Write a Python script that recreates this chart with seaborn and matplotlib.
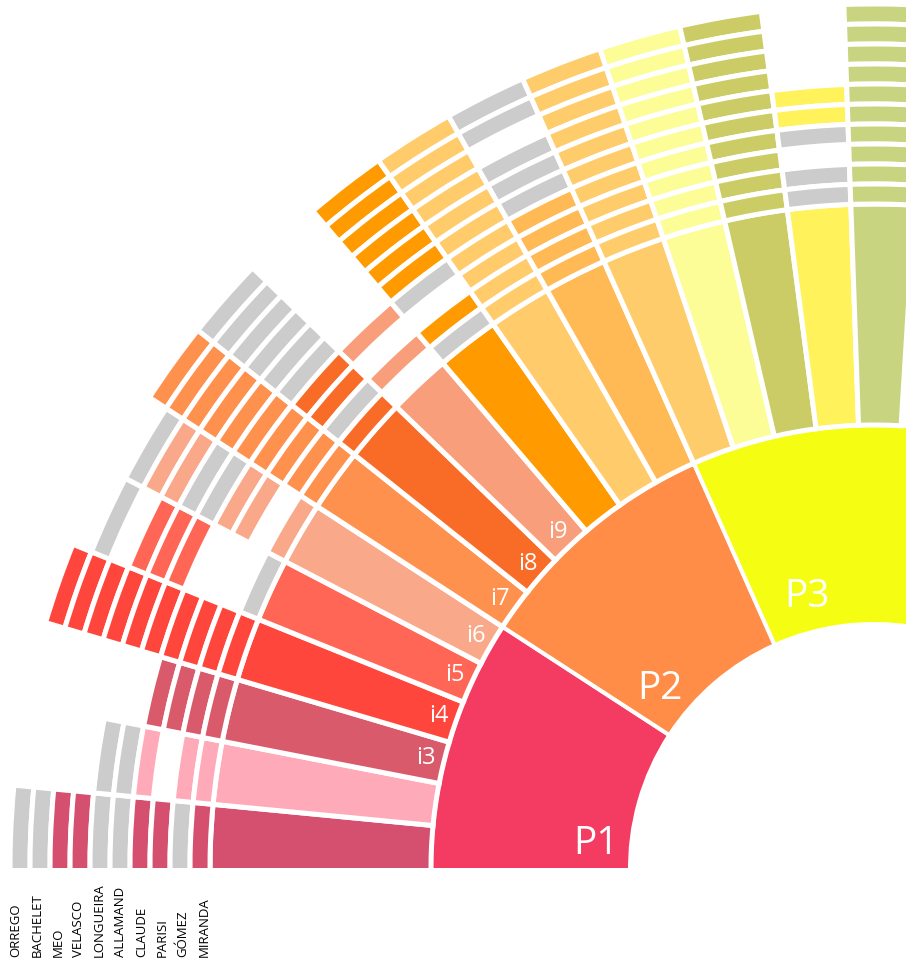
import numpy as np
import matplotlib
matplotlib.use("Agg")
import matplotlib.pyplot as plt
from matplotlib.patches import Rectangle
import seaborn as sns

# ---------------- data ----------------
candidates = ["ORREGO", "BACHELET", "MEO", "VELASCO", "LONGUEIRA",
              "ALLAMAND", "CLAUDE", "PARISI", "GÓMEZ", "MIRANDA"]

indicators = ["i1", "i2", "i3", "i4", "i5", "i6", "i7", "i8", "i9",
              "i10", "i11", "i12", "i13", "i14", "i15", "i16", "i17"]
labelled_indicators = ["i3", "i4", "i5", "i6", "i7", "i8", "i9"]

groups = ["P1", "P2", "P3"]
group_sizes = [6, 6, 6]          # P3 continues past the right edge

indicator_colors = ["#d4506e", "#ffaab8", "#d95b6b", "#ff463c", "#ff6655",
                    "#f9a98a", "#ff914f", "#f96c28", "#f99e7b", "#ff9a00",
                    "#ffcb6b", "#ffba55", "#ffcc6b", "#fdfd98", "#cccc66",
                    "#fff25b", "#c8d47f"]
group_colors = ["#f43c62", "#ff8c47", "#f5fe12"]
grey = "#cccccc"

# one string per indicator, one character per candidate (ORREGO ... MIRANDA)
# c = indicator colour, g = grey, . = no cell
cell_codes = ["ggccggccgc",
              "....ggc.cc",
              "......cccc",
              "cccccccccc",
              ".g.ccc...g",
              ".gccggcc.c",
              "cccccccccc",
              "ggggggccgc",
              "......c.c.",
              "ccccccg.cg",
              "cccccccccc",
              "gg.gggcccc",
              "cccccccccc",
              "cccccccccc",
              "cccccccccc",
              "....ccg.gg",
              "cccccccccc"]

# ---------------- style ----------------
sns.set_theme(style="white")
plt.rcParams["font.family"] = ["Open Sans", "DejaVu Sans"]
palette = sns.color_palette(indicator_colors)
gpalette = sns.color_palette(group_colors)

W, H = 906, 964
fig = plt.figure(figsize=(W / 100, H / 100), dpi=100)
cx, cy = 874, 868          # centre of the rings (pixels from top-left)
R = 880                    # radial limit in pixels
ax = fig.add_axes([(cx - R) / W, (H - cy - R) / H, 2 * R / W, 2 * R / H],
                  projection="polar")
ax.set_ylim(0, R)
ax.set_axis_off()

step = np.deg2rad(5.5)
extra = np.deg2rad(1.5)   # first wedge runs under the baseline mask
px = 72 / 100  # points per pixel

# party ring
g_start = np.concatenate([[0], np.cumsum(group_sizes)[:-1]])
g_left = np.pi - step * (g_start + np.array(group_sizes))
g_width = step * np.array(group_sizes) + np.where(g_start == 0, extra, 0)
ax.bar(g_left, 443 - 244, width=g_width, bottom=244, color=gpalette,
       edgecolor="white", linewidth=4 * px, align="edge")

# indicator bars
idx = np.arange(len(indicators))
i_left = np.pi - step * (idx + 1)
i_width = step + np.where(idx == 0, extra, 0)
i_theta = np.pi - step * (idx + 0.5)
ax.bar(i_left, 664 - 443, width=i_width, bottom=443, color=palette,
       edgecolor="white", linewidth=5 * px, align="edge")

# candidate rings
n_c = len(candidates)
for j, code in enumerate(cell_codes):
    for k, ch in enumerate(code):
        if ch == ".":
            continue
        col = palette[j] if ch == "c" else grey
        ax.bar(i_left[j], 20, width=i_width[j], bottom=664 + 20 * (n_c - 1 - k),
               color=col, edgecolor="white", linewidth=5 * px, align="edge")

# indicator labels
for j, name in enumerate(indicators):
    if name in labelled_indicators:
        ax.text(i_theta[j], 461, name, color="white", fontsize=17,
                ha="center", va="center")

# party labels
p_offsets = np.deg2rad([5, 7, 10])
for g, name in enumerate(groups):
    th = np.pi - step * g_start[g] - p_offsets[g]
    ax.text(th, 279, name, color="white", fontsize=28, ha="center", va="center")

# white mask below the baseline through the centre
fig.patches.append(Rectangle((0, 0), 1, (H - cy) / H, transform=fig.transFigure,
                             facecolor="white", edgecolor="none", zorder=1))

# candidate names under the rings
for k, name in enumerate(candidates):
    fig.text((16 + 20.9 * k) / W, (H - 957) / H, name, rotation=90,
             ha="center", va="bottom", fontsize=9.5, color="black", zorder=2)

fig.savefig("out.png", dpi=100, facecolor="white")
